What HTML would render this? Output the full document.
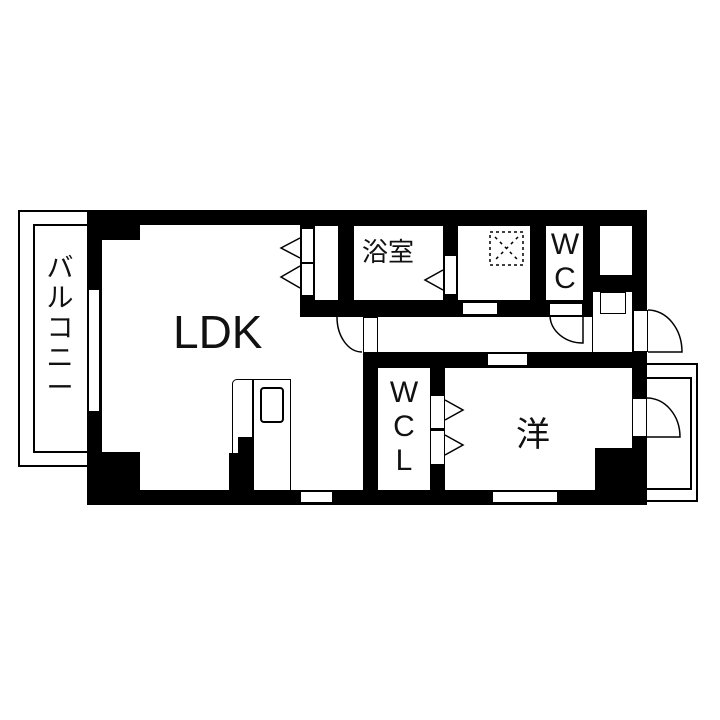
<!DOCTYPE html>
<html><head><meta charset="utf-8"><style>
body{margin:0;width:720px;height:720px;background:#fff;position:relative;overflow:hidden;font-family:"Liberation Sans","Noto Sans CJK JP",sans-serif}
.b{position:absolute;background:#000}
.w{position:absolute;background:#fff;box-sizing:border-box}
.o{position:absolute;border:1.5px solid #000;box-sizing:border-box;background:#fff}
.t{position:absolute;color:#111;line-height:1}
</style></head><body>
<!-- balcony -->
<div class="o" style="left:18px;top:210px;width:72px;height:257px;border-width:2px"></div>
<div class="o" style="left:33px;top:224px;width:57px;height:229px;border-width:2px"></div>
<div class="t" style="left:45px;top:253px;font-size:27px;width:30px;text-align:center;line-height:30px">バ<br>ル<br>コ<br>ニ<br>ー</div>
<!-- right small balcony -->
<div class="o" style="left:640px;top:363px;width:58px;height:139px;border-width:2px"></div>
<div class="o" style="left:640px;top:377px;width:52px;height:113px;border-width:2px"></div>

<!-- building black -->
<div class="b" style="left:87px;top:210px;width:560px;height:295px"></div>
<!-- LDK -->
<div class="w" style="left:102px;top:225px;width:198px;height:265px"></div>
<div class="w" style="left:300px;top:317px;width:63px;height:173px"></div>
<div class="b" style="left:87px;top:210px;width:53px;height:30px"></div>
<div class="b" style="left:87px;top:452px;width:53px;height:53px"></div>
<div class="o" style="left:88px;top:289px;width:12px;height:123px"></div>
<!-- closet -->
<div class="o" style="left:301px;top:228px;width:13px;height:35px"></div>
<div class="o" style="left:301px;top:263px;width:13px;height:33px"></div>
<div class="w" style="left:315px;top:226px;width:23px;height:74px"></div>
<!-- corridor -->
<div class="w" style="left:363px;top:317px;width:269px;height:35px"></div>
<div class="o" style="left:363px;top:317px;width:15px;height:36px"></div>
<div class="w" style="left:592px;top:292px;width:40px;height:60px;border-left:1.5px solid #000"></div>
<div class="o" style="left:600px;top:292px;width:26px;height:22px"></div>
<div class="o" style="left:633px;top:310px;width:15px;height:42px"></div>
<!-- top rooms -->
<div class="w" style="left:354px;top:226px;width:89px;height:74px"></div>
<div class="w" style="left:458px;top:226px;width:72px;height:74px"></div>
<div class="w" style="left:546px;top:226px;width:37px;height:74px"></div>
<div class="w" style="left:600px;top:226px;width:32px;height:49px"></div>
<div class="o" style="left:444px;top:255px;width:13px;height:40px"></div>
<div class="o" style="left:462px;top:302px;width:36px;height:13px"></div>
<div class="o" style="left:549px;top:303px;width:34px;height:13px"></div>
<!-- lower rooms -->
<div class="w" style="left:378px;top:368px;width:52px;height:122px"></div>
<div class="w" style="left:445px;top:368px;width:187px;height:122px"></div>
<div class="b" style="left:595px;top:448px;width:37px;height:42px"></div>
<div class="o" style="left:487px;top:353px;width:41px;height:13px"></div>
<div class="o" style="left:430px;top:395px;width:15px;height:34px"></div>
<div class="o" style="left:430px;top:430px;width:15px;height:35px"></div>
<div class="o" style="left:632px;top:398px;width:15px;height:39px"></div>
<div class="o" style="left:492px;top:491px;width:66px;height:12px"></div>
<div class="o" style="left:300px;top:491px;width:33px;height:12px"></div>
<!-- kitchen -->
<div class="o" style="left:232px;top:379px;width:59px;height:112px;border-radius:5px 0 0 0"></div>
<div class="b" style="left:252px;top:380px;width:1.5px;height:110px"></div>
<div class="o" style="left:260px;top:387px;width:24px;height:36px;border-radius:4px;border-width:2px"></div>
<div class="b" style="left:238px;top:437px;width:15px;height:53px"></div>
<div class="b" style="left:229px;top:453px;width:24px;height:37px"></div>
<svg style="position:absolute;left:0;top:0" width="720" height="720">
<g fill="none" stroke="#000" stroke-width="1.5">
<polyline points="300,238 281,248 300,258"/>
<polyline points="300,266 281,277 300,288"/>
<polyline points="443,270 425,280 443,290"/>
<polyline points="445,400 463,410 445,420"/>
<polyline points="445,435 463,445 445,455"/>
<path d="M337,317 A25,35 0 0 0 362,352"/>
<path d="M550,316 A33,28 0 0 0 583,343 L583,316"/>
<path d="M648,310 A34,42 0 0 1 682,352 L648,352"/>
<path d="M647,398 A33,39 0 0 1 680,437 L647,437"/>
<rect x="490" y="232" width="33" height="33" stroke-dasharray="3,3"/>
<path d="M495,237 L518,260 M518,237 L495,260" stroke-dasharray="3,4"/>
</g>
</svg>
<!-- labels -->
<div class="t" style="left:173px;top:309px;font-size:46px">LDK</div>
<div class="t" style="left:362px;top:239px;font-size:26px">浴室</div>
<div class="t" style="left:549px;top:228px;font-size:30px;line-height:34px;text-align:center;width:32px">W<br>C</div>
<div class="t" style="left:388px;top:376px;font-size:30px;line-height:34px;text-align:center;width:32px">W<br>C<br>L</div>
<div class="t" style="left:516px;top:418px;font-size:34px">洋</div>
</body></html>
